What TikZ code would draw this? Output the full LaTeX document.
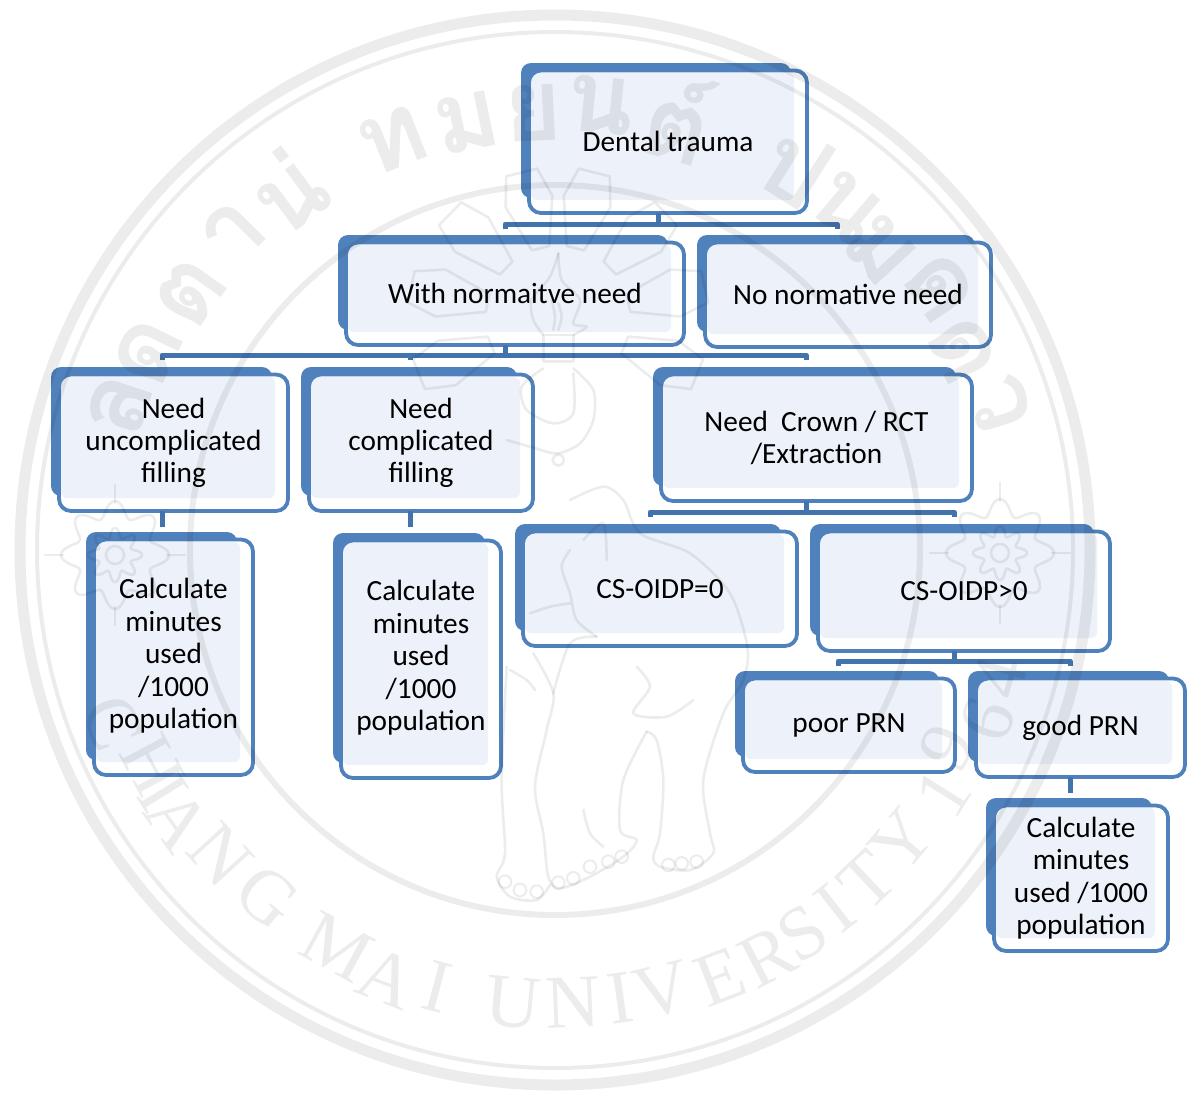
\documentclass[tikz,border=0pt]{standalone}
\usepackage{fontspec}
\setmainfont{Carlito}
\newfontfamily\thaifnt[Script=Thai]{Loma}
\newfontfamily\wmfnt{Liberation Serif}
\definecolor{backc}{HTML}{4F81BD}
\definecolor{innerc}{HTML}{EDF1F9}
\definecolor{connc}{HTML}{4373AC}
\tikzset{
  frame/.style={draw=backc,line width=3.8pt,fill=white,rounded corners=12pt,inner sep=0pt,outer sep=0pt,
    align=center,text=black,font=\fontsize{29.3}{32.3}\selectfont,
    path picture={\fill[innerc,rounded corners=6pt]
      ([shift={(2,2.5)}]path picture bounding box.north west) rectangle
      ([shift={(-13,-13)}]path picture bounding box.south east);}},
  conn/.style={draw=connc,line width=5pt,line join=round},
  wm/.style={opacity=.075,draw=black,line width=2.6pt,line join=round,line cap=round},
  wmthai/.style={text opacity=.075,text=black,font=\thaifnt\bfseries\fontsize{100}{100}\selectfont,inner sep=0pt},
  wmlat/.style={text opacity=.075,text=black,font=\wmfnt\fontsize{76}{76}\selectfont,inner sep=0pt}
}
% name, x0, y0, x1, y1, text
\newcommand\bx[6]{%
  \pgfmathsetmacro\fw{#4-#2-10}\pgfmathsetmacro\fh{#5-#3-9.5}%
  \fill[backc,rounded corners=10pt] (#2,#3) rectangle (#4-18,#5-17);
  \node[frame,minimum width=\fw pt,minimum height=\fh pt,anchor=north west] (#1) at (#2+8,#3+7.5) {#6};
}
\begin{document}
\begin{tikzpicture}[x=1pt,y=-1pt]
\useasboundingbox (0,0) rectangle (1187,1093);
\clip (0,0) rectangle (1187,1093);
\fill[white] (0,0) rectangle (1187,1093);

\bx{dental}{521}{63}{809}{215}{Dental trauma}
\bx{with}{338}{235}{686}{347}{With normaitve need}
\bx{no}{697}{235}{993}{349}{No normative need}
\bx{uncomp}{51}{367}{290}{513}{Need\\uncomplicated\\filling}
\bx{comp}{301}{367}{535}{513}{Need\\complicated\\filling}
\bx{crown}{653}{367}{974}{503}{Need\ \ Crown / RCT\\/Extraction}
\bx{calca}{86}{532}{255}{777}{\raisebox{2pt}{\begin{tabular}{@{}c@{}}Calculate\\[0.3pt]minutes\\[0.3pt]used\\[0.3pt]/1000\\[0.3pt]population\end{tabular}}}
\bx{calcb}{333}{533}{503}{780}{\raisebox{2pt}{\begin{tabular}{@{}c@{}}Calculate\\[0.3pt]minutes\\[0.3pt]used\\[0.3pt]/1000\\[0.3pt]population\end{tabular}}}
\bx{zero}{515}{524}{799}{648}{CS-OIDP=0}
\bx{pos}{810}{524}{1112}{653}{CS-OIDP>0}
\bx{poor}{735}{671}{957}{774}{poor PRN}
\bx{good}{968}{671}{1187}{779}{good PRN}
\bx{calcc}{986}{798}{1170}{953}{Calculate\\minutes\\used /1000\\population}

% connectors
\coordinate (ba) at (658,224);
\draw[conn] (dental.south -| ba) -- (ba);
\coordinate (ta1) at (505,229); \coordinate (ta2) at (837,229);
\draw[conn] (ta1) |- (ba) -| (ta2);
\coordinate (bb) at (505,355);
\draw[conn] (with.south -| bb) -- (bb);
\coordinate (tb1) at (162,360); \coordinate (tb2) at (410,360); \coordinate (tb3) at (806,360);
\draw[conn] (tb1) |- (bb) -| (tb3);
\draw[conn] (bb -| tb2) -- (tb2);
\coordinate (sa) at (162,527); \coordinate (sb) at (410,527);
\draw[conn] (uncomp.south -| sa) -- (sa);
\draw[conn] (comp.south -| sb) -- (sb);
\coordinate (bc) at (806,512);
\draw[conn] (crown.south -| bc) -- (bc);
\coordinate (tc1) at (650,517); \coordinate (tc2) at (954,517);
\draw[conn] (tc1) |- (bc) -| (tc2);
\coordinate (bd) at (954,661);
\draw[conn] (pos.south -| bd) -- (bd);
\coordinate (td1) at (838,666); \coordinate (td2) at (1070,666);
\draw[conn] (td1) |- (bd) -| (td2);
\coordinate (se) at (1070,793);
\draw[conn] (good.south -| se) -- (se);

% watermark rings
\draw[wm,line width=11pt] (555,550) circle (535);
\draw[wm,line width=4pt] (555,550) circle (518);
\draw[wm,line width=6pt] (555,550) circle (365);

% Thai letters of the seal
\foreach \px/\py/\g [count=\i] in {120/405/ล,147/352/ด,190/293/ต,233/233/า,287/190/น่,393/140/ท,467/123/ม,533/113/ย,600/105/น,680/117/ต์,797/167/ป,847/207/น,880/250/ม,940/287/ด,963/350/ด,1000/403/ว}{
  \pgfmathsetmacro\rr{atan2(\px-555,550-\py)}
  \node[wmthai,rotate=-\rr] (th\i) at (\px,\py) {\g};
}
% University name along the lower arc
\foreach \px/\py/\g [count=\i] in {113/723/C,152/765/H,163/793/I,178/820/A,220/855/N,267/897/G,337/947/M,387/978/A,437/987/I,513/1003/U,573/1003/N,620/998/I,662/990/V,720/977/E,767/957/R,803/933/S,835/908/I,867/880/T,902/840/Y,943/793/1,947/747/9,987/720/6,1000/677/4}{
  \pgfmathsetmacro\rr{atan2(555-\px,\py-550)}
  \node[wmlat,rotate=-\rr] (un\i) at (\px,\py) {\g};
}

% flowers
\foreach \cx/\cy in {115/555,1000/553}{
  \draw[wm] plot[domain=0:360,samples=145,smooth] ({\cx+(46+8*cos(8*\x))*cos(\x)},{\cy+(46+8*cos(8*\x))*sin(\x)});
  \draw[wm] plot[domain=0:360,samples=145,smooth] ({\cx+(22+5*cos(8*\x))*cos(\x)},{\cy+(22+5*cos(8*\x))*sin(\x)});
  \draw[wm] (\cx,\cy) circle (9);
  \foreach \t in {0,90,180,270}{
    \draw[wm] ({\cx+52*cos(\t)},{\cy+52*sin(\t)}) -- ({\cx+70*cos(\t)},{\cy+70*sin(\t)});
  }
}

% rays of the emblem
\foreach \t in {-112,-78,-46,-14,14,46,78,112}{
  \begin{scope}[shift={(558,318)},rotate=\t]
    \draw[wm] (-9,-72) -- (-24,-120) -- (-16,-150) -- (16,-150) -- (24,-120) -- (9,-72) -- cycle;
  \end{scope}
}
% torch and flame
\begin{scope}[shift={(440,220)},scale=1/3]
  \draw[wm] plot[smooth] coordinates {(355,100) (330,170) (275,240) (280,300) (310,345)};
  \draw[wm] plot[smooth] coordinates {(355,100) (365,180) (420,240) (400,310) (440,320) (400,345)};
  \draw[wm] plot[smooth] coordinates {(335,240) (345,290) (340,330)};
  \draw[wm] plot[smooth] coordinates {(355,250) (365,290) (355,330)};
  \draw[wm] (310,345) rectangle (400,425);
  \draw[wm] plot[smooth] coordinates {(310,445) (245,500) (260,570) (340,610) (400,580) (400,460)};
  \draw[wm] plot[smooth] coordinates {(400,445) (460,510) (460,600) (420,670) (350,700) (270,680) (200,660)};
  \draw[wm] (355,720) circle (17);
\end{scope}
% elephant
\begin{scope}[shift={(490,480)},scale=1/3]
  \draw[wm] plot[smooth] coordinates {(240,60) (340,20) (400,60) (450,160) (600,220) (720,340) (772,500) (760,600) (700,700) (640,900) (660,1060) (670,1120) (600,1170) (510,1160) (490,1130) (510,1060) (520,900) (500,780) (470,755)};
  \draw[wm] plot[smooth] coordinates {(470,755) (400,900) (390,1050) (440,1080) (400,1130) (300,1190) (210,1225) (175,1190) (160,1060) (135,920) (170,750) (190,640) (130,520)};
  \draw[wm] plot[smooth] coordinates {(50,560) (35,900) (45,1120) (20,1190) (60,1250) (140,1260) (180,1215)};
  \draw[wm] plot[smooth] coordinates {(60,570) (110,600) (135,630)};
  \draw[wm] plot[smooth] coordinates {(240,210) (215,260) (240,340) (260,420) (320,470)};
  \draw[wm] plot[smooth] coordinates {(120,400) (180,380) (240,370)};
  \draw[wm] plot[smooth] coordinates {(280,180) (340,130) (350,240)};
  \draw[wm] plot[smooth] coordinates {(320,470) (240,490) (190,640)};
  \draw[wm] plot[smooth] coordinates {(440,560) (480,620) (430,700) (530,710) (610,660)};
  \draw[wm] plot[smooth] coordinates {(280,990) (300,1060) (340,1100)};
\end{scope}
% toes of the elephant
\begin{scope}[shift={(480,660)},scale=1/3]
  \foreach \tx/\ty in {75/665,120/690,170/695,235/668,280/655,330/620,385/605,425/590,565/615,605/610,650/605}{
    \draw[wm,line width=2pt] (\tx,\ty) circle (19);
  }
\end{scope}
\end{tikzpicture}
\end{document}
